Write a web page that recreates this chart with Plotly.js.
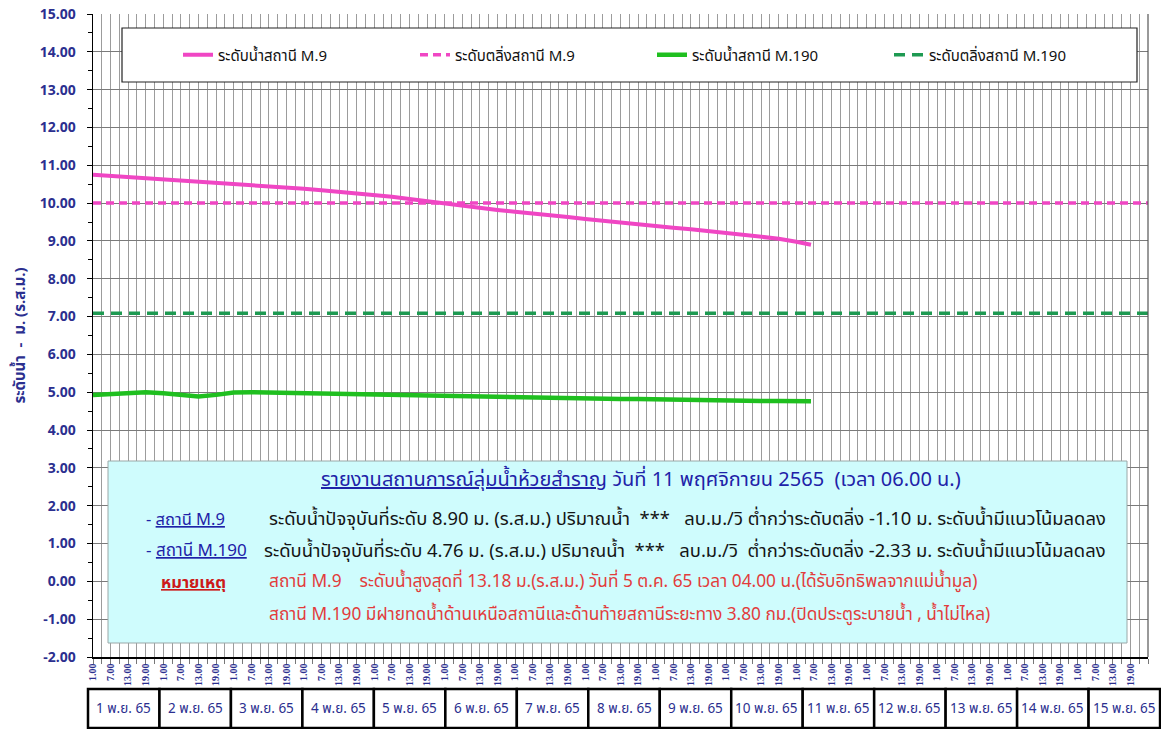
<!DOCTYPE html>
<html>
<head>
<meta charset="utf-8">
<script src="https://cdn.plot.ly/plotly-3.0.1.min.js"></script>
<style>html,body{margin:0;padding:0;background:#fff;}#chart{width:1161px;height:729px;}</style>
</head>
<body>
<div id="chart"></div>
<script>
// ---------- DATA ----------
const days = ['1 พ.ย. 65','2 พ.ย. 65','3 พ.ย. 65','4 พ.ย. 65','5 พ.ย. 65','6 พ.ย. 65','7 พ.ย. 65','8 พ.ย. 65',
  '9 พ.ย. 65','10 พ.ย. 65','11 พ.ย. 65','12 พ.ย. 65','13 พ.ย. 65','14 พ.ย. 65','15 พ.ย. 65'];
const timeLabels = ['1.00','7.00','13.00','19.00'];
// hours counted from 1.00 of 1 Nov
const hours = [0,6,12,18,24,30,36,42,48,54,60,66,72,78,84,90,96,102,108,114,120,126,132,138,144,150,156,162,168,174,180,186,192,198,204,210,216,222,228,234,240,245];
const levelM9 = [10.75,10.72,10.69,10.66,10.64,10.60,10.57,10.54,10.51,10.48,10.45,10.41,10.38,10.34,10.30,10.26,10.21,10.17,10.11,10.05,9.98,9.92,9.87,9.82,9.77,9.73,9.68,9.63,9.58,9.53,9.49,9.44,9.40,9.35,9.31,9.26,9.22,9.17,9.13,9.06,8.98,8.90];
const levelM190 = [4.93,4.96,4.99,5.00,4.97,4.92,4.89,4.93,4.99,5.00,4.99,4.98,4.97,4.97,4.96,4.95,4.94,4.94,4.93,4.93,4.92,4.91,4.90,4.89,4.88,4.87,4.86,4.85,4.84,4.83,4.82,4.82,4.81,4.80,4.79,4.79,4.78,4.78,4.77,4.77,4.76,4.76];
const bankM9 = 10.00;
const bankM190 = 7.09;
const seriesNames = ['ระดับน้ำสถานี M.9','ระดับตลิ่งสถานี M.9','ระดับน้ำสถานี M.190','ระดับตลิ่งสถานี M.190'];

// ---------- BUILD ----------
const FONT = "Tahoma, 'Noto Sans Thai', 'Noto Sans', 'DejaVu Sans', sans-serif";
const NAVY = '#2b2f8f';
const xEnd = days.length * 24;
const tickvals = [], ticktext = [];
days.forEach((d, i) => timeLabels.forEach((t, j) => { tickvals.push(i * 24 + j * 6); ticktext.push(t); }));

const L = 93, R = 1148, T = 14, B = 657;
const px = x => (x - L) / (R - L);
const py = y => (B - y) / (B - T);

const traces = [
  {x: hours, y: levelM9, name: seriesNames[0], type: 'scatter', mode: 'lines',
   line: {color: '#f046c4', width: 4}},
  {x: [0, xEnd], y: [bankM9, bankM9], name: seriesNames[1], type: 'scatter', mode: 'lines',
   line: {color: '#f046c4', width: 3.5, dash: '8px,5px'}},
  {x: hours, y: levelM190, name: seriesNames[2], type: 'scatter', mode: 'lines',
   line: {color: '#1fbf1f', width: 4.5}},
  {x: [0, xEnd], y: [bankM190, bankM190], name: seriesNames[3], type: 'scatter', mode: 'lines',
   line: {color: '#1e9a52', width: 3.5, dash: '11px,7px'}}
];

const shapes = [
  // legend frame
  {type: 'rect', xref: 'paper', yref: 'paper', x0: px(122), x1: px(1137), y0: py(82), y1: py(28),
   fillcolor: '#ffffff', line: {color: '#222', width: 1.2}, layer: 'above'},
  // info box
  {type: 'rect', xref: 'paper', yref: 'paper', x0: px(108), x1: px(1127), y0: py(643), y1: py(461),
   fillcolor: '#cffcfd', line: {color: '#9aa8a8', width: 1}, layer: 'above'},
  // right frame
  {type: 'line', xref: 'paper', yref: 'paper', x0: 1, x1: 1, y0: 0, y1: 1, line: {color: '#555', width: 1.2}}
];
const annotations = [];
days.forEach((d, i) => {
  const x0 = 88 + i * 71.47, x1 = x0 + 71.47;
  shapes.push({type: 'rect', xref: 'paper', yref: 'paper', x0: px(x0), x1: px(x1), y0: py(728), y1: py(689),
    fillcolor: '#fff', line: {color: '#000', width: 2.5}, layer: 'below'});
  annotations.push({xref: 'paper', yref: 'paper', x: px((x0 + x1) / 2), y: py(709), text: d, showarrow: false,
    xanchor: 'center', yanchor: 'middle', font: {family: FONT, size: 13.5, color: NAVY}});
});

function note(x, y, text, size, color, anchor) {
  annotations.push({xref: 'paper', yref: 'paper', x: px(x), y: py(y), text: text, showarrow: false,
    xanchor: anchor || 'left', yanchor: 'middle', font: {family: FONT, size: size, color: color}});
}
note(641, 480, '<u>รายงานสถานการณ์ลุ่มน้ำห้วยสำราญ</u> วันที่ 11 พฤศจิกายน 2565\u00a0\u00a0(เวลา 06.00 น.)', 20, '#1e22a8', 'center');
note(144, 519, '- <u>สถานี M.9</u>', 16.5, '#1e22a8');
note(267, 519, 'ระดับน้ำปัจจุบันที่ระดับ 8.90 ม. (ร.ส.ม.) ปริมาณน้ำ\u00a0\u00a0***\u00a0\u00a0\u00a0ลบ.ม./วิ ต่ำกว่าระดับตลิ่ง -1.10 ม. ระดับน้ำมีแนวโน้มลดลง', 18.4, '#151515');
note(144, 551, '- <u>สถานี M.190</u>', 17, '#1e22a8');
note(262, 551, 'ระดับน้ำปัจจุบันที่ระดับ 4.76 ม. (ร.ส.ม.) ปริมาณน้ำ\u00a0\u00a0***\u00a0\u00a0\u00a0ลบ.ม./วิ\u00a0\u00a0ต่ำกว่าระดับตลิ่ง -2.33 ม. ระดับน้ำมีแนวโน้มลดลง', 18.4, '#151515');
note(159, 582, '<b><u>หมายเหตุ</u></b>', 16.5, '#cc1a1a');
note(267, 582, 'สถานี M.9\u00a0\u00a0\u00a0\u00a0ระดับน้ำสูงสุดที่ 13.18 ม.(ร.ส.ม.) วันที่ 5 ต.ค. 65 เวลา 04.00 น.(ได้รับอิทธิพลจากแม่น้ำมูล)', 17.3, '#e23c3c');
note(267, 615, 'สถานี M.190 มีฝายทดน้ำด้านเหนือสถานีและด้านท้ายสถานีระยะทาง 3.80 กม.(ปิดประตูระบายน้ำ , น้ำไม่ไหล)', 17.3, '#e23c3c');

const layout = {
  width: 1161, height: 729,
  margin: {l: L, r: 1161 - R, t: T, b: 729 - B},
  paper_bgcolor: '#fff', plot_bgcolor: '#fff',
  font: {family: FONT},
  showlegend: true,
  legend: {orientation: 'h', x: px(178), y: py(55), xanchor: 'left', yanchor: 'middle',
    bgcolor: 'rgba(0,0,0,0)', borderwidth: 0, entrywidth: 192, entrywidthmode: 'pixels',
    font: {family: FONT, size: 15, color: '#111'}, traceorder: 'normal'},
  xaxis: {
    range: [0, xEnd], tickmode: 'array', tickvals: tickvals, ticktext: ticktext, tickangle: -90,
    tickfont: {family: "'Liberation Serif', 'DejaVu Serif', serif", size: 10, color: NAVY, weight: 'bold'},
    showgrid: true, gridcolor: '#9c9c9c', gridwidth: 1,
    ticks: 'outside', ticklen: 5, tickcolor: '#777', ticklabelstandoff: -4,
    minor: {dtick: 3, tick0: 0, showgrid: true, gridcolor: '#9c9c9c', gridwidth: 1, ticks: 'outside', ticklen: 5, tickcolor: '#777'},
    showline: true, linecolor: '#000', linewidth: 1.5, zeroline: false, fixedrange: true
  },
  yaxis: {
    range: [-2, 15], dtick: 1, tick0: 0, tickformat: '.2f',
    tickfont: {family: FONT, size: 14, color: NAVY, weight: 'bold'},
    showgrid: true, gridcolor: '#7a7a7a', gridwidth: 1,
    ticks: 'outside', ticklen: 5, tickcolor: '#000', ticklabelstandoff: 8,
    minor: {dtick: 0.5, ticks: 'outside', ticklen: 4, tickcolor: '#000', showgrid: false},
    showline: true, linecolor: '#000', linewidth: 1.5, zeroline: false,
    title: {text: 'ระดับน้ำ\u00a0\u00a0-\u00a0\u00a0ม. (ร.ส.ม.)', font: {family: FONT, size: 15, color: NAVY, weight: 'bold'}, standoff: 10},
    fixedrange: true
  },
  shapes: shapes,
  annotations: annotations
};

Plotly.newPlot('chart', traces, layout, {displayModeBar: false, staticPlot: true});
</script>
</body>
</html>
